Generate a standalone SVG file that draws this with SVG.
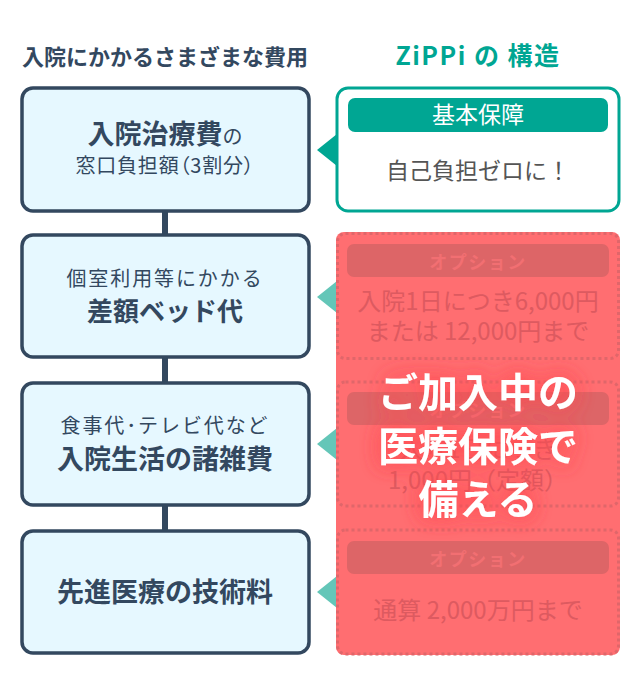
<svg xmlns="http://www.w3.org/2000/svg" width="640" height="691" viewBox="0 0 640 691">
<defs>
<filter id="glow" x="-30%" y="-30%" width="160%" height="160%">
<feGaussianBlur in="SourceAlpha" stdDeviation="10" result="b"/>
<feFlood flood-color="#ff4a50" flood-opacity=".8"/>
<feComposite in2="b" operator="in" result="s"/>
<feMerge><feMergeNode in="s"/><feMergeNode in="s"/><feMergeNode in="SourceGraphic"/></feMerge>
</filter>
</defs>
<style>
text{font-family:"Noto Sans CJK JP","Noto Sans",sans-serif;text-anchor:middle}
.box{fill:#e6f8ff;stroke:#33485f;stroke-width:3.5}
.d{fill:#33485f}
.b{font-weight:700;font-size:27px;fill:#33485f}
.s{font-size:20px;fill:#33485f}
.ss{font-size:20px;letter-spacing:1.900px;fill:#33485f}
.opt{fill:none;stroke:#e0666a;stroke-width:3;stroke-dasharray:3 3}
.hd{fill:#dd6567}
.hdt{font-size:18px;font-weight:700;fill:#f26f72;letter-spacing:1.500px}
.t{font-size:24px;fill:#dd5a60}
.w{font-size:40px;font-weight:700;fill:#fff}
.tri{fill:#64c6b8}
</style>
<rect width="640" height="691" fill="#fff"/>
<text x="165" y="65" style="font-size:22px;font-weight:700;fill:#33485f">入院にかかるさまざまな費用</text>
<text x="478" y="65" style="font-size:25px;font-weight:700;letter-spacing:1.500px;fill:#00a693">ZiPPi の 構造</text>
<g id="connectors">
<rect class="d" x="162" y="210" width="6" height="26"/>
<rect class="d" x="162" y="356" width="6" height="28"/>
<rect class="d" x="162" y="504" width="6" height="28"/>
<polygon points="337,134 317,150 337,166" fill="#00a693"/>
<polygon class="tri" points="337,281 317,297 337,313"/>
<polygon class="tri" points="337,428 317,444 337,460"/>
<polygon class="tri" points="337,576 317,592 337,608"/>
</g>
<g id="node-1">
<rect class="box" x="22" y="88" width="287" height="123" rx="11"/>
<text class="b" x="165" y="144">入院治療費<tspan style="font-size:20px;font-weight:400">の</tspan></text>
<text class="s" x="165" y="173" style="font-feature-settings:'palt';letter-spacing:.8px">窓口負担額（3割分）</text>
</g>
<g id="node-2">
<rect class="box" x="22" y="235" width="287" height="122" rx="11"/>
<text class="ss" x="165" y="286">個室利用等にかかる</text>
<text class="b" x="165" y="321" style="font-size:26px">差額ベッド代</text>
</g>
<g id="node-3">
<rect class="box" x="22" y="383" width="287" height="122" rx="11"/>
<text class="ss" x="165" y="433">食事代･テレビ代など</text>
<text class="b" x="165" y="469">入院生活の諸雑費</text>
</g>
<g id="node-4">
<rect class="box" x="22" y="531" width="287" height="122" rx="11"/>
<text class="b" x="165" y="602">先進医療の技術料</text>
</g>
<g id="basic">
<rect x="337" y="88" width="282" height="123" rx="11" fill="#fff" stroke="#00a693" stroke-width="3"/>
<rect x="348" y="98" width="260" height="34" rx="7" fill="#00a693"/>
<text x="478" y="123" style="font-size:23px;fill:#fff">基本保障</text>
<text x="478" y="179" style="font-size:23px;fill:#555">自己負担ゼロに！</text>
</g>
<g id="options">
<rect x="336" y="232" width="284" height="423" rx="8" fill="#ff6e71"/>
<g id="option-1">
<rect class="opt" x="337.500" y="233.500" width="281" height="125" rx="8"/>
<rect class="hd" x="347" y="244" width="262" height="33" rx="7"/>
<text class="hdt" x="478" y="269">オプション</text>
<text class="t" x="478" y="310">入院1日につき6,000円</text>
<text class="t" x="478" y="340">または 12,000円まで</text>
</g>
<g id="option-2">
<rect class="opt" x="337.500" y="382" width="281" height="124" rx="8"/>
<rect class="hd" x="347" y="392" width="262" height="33" rx="7"/>
<text class="hdt" x="478" y="417">オプション</text>
<text class="t" x="478" y="458">入院1日につき</text>
<text class="t" x="478" y="489">1,000円（定額）</text>
</g>
<g id="option-3">
<rect class="opt" x="337.500" y="530" width="281" height="124" rx="8"/>
<rect class="hd" x="347" y="541" width="262" height="33" rx="7"/>
<text class="hdt" x="478" y="566">オプション</text>
<text class="t" x="478" y="619">通算 2,000万円まで</text>
</g>
</g>
<g id="overlay" filter="url(#glow)">
<text class="w" x="478" y="407">ご加入中の</text>
<text class="w" x="478" y="461">医療保険で</text>
<text class="w" x="478" y="514">備える</text>
</g>
</svg>
